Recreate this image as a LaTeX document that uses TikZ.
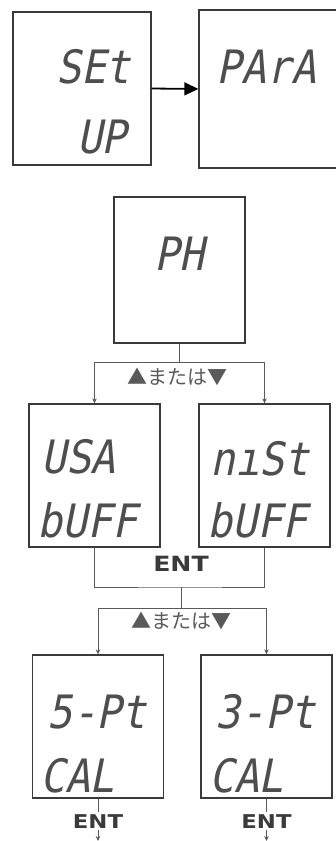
\documentclass[tikz,border=0pt]{standalone}
\usepackage{fontspec}
\usetikzlibrary{positioning,arrows.meta}
\usepackage{xcolor}
\newfontfamily\lcdfont{DejaVu Sans Mono}[FakeSlant=0.2,FakeStretch=0.9]
\newfontfamily\jpfont{Noto Sans CJK JP}
\newfontfamily\entfont{DejaVu Sans}[FakeStretch=1.2]
\definecolor{PanelGray}{RGB}{58,58,58}
\definecolor{LCDGray}{RGB}{78,78,78}
\definecolor{LinkGray}{RGB}{90,90,90}

\begin{document}
\begin{tikzpicture}[
x=1pt,y=-1pt,
panel/.style={rectangle,draw=PanelGray,line width=1.3pt,inner sep=0pt,
minimum width=131pt,minimum height=143pt},
lcd/.style={anchor=base,inner sep=0pt,text=LCDGray,
font=\lcdfont\fontsize{46pt}{46pt}\selectfont},
keylab/.style={anchor=base,inner sep=0pt,text=LinkGray,
font=\jpfont\fontsize{20pt}{20pt}\selectfont},
entlab/.style={anchor=base,inner sep=2pt,text=PanelGray,
font=\entfont\bfseries\fontsize{21pt}{21pt}\selectfont},
link/.style={draw=LinkGray,line width=0.9pt},
tip/.style={-{Stealth[length=5pt,width=4.5pt]}},
arrow/.style={-{Triangle[length=14pt,width=13pt]},line width=1.8pt,draw=black}
]
\useasboundingbox (0,0) rectangle (335,841);
% displays
\node[panel,minimum width=138pt,minimum height=153pt] (setup) at (82,88.5) {};
\node[panel,minimum width=140pt,minimum height=158pt] (para) at (269,89) {};
\node[panel,minimum height=146pt] (ph) at (179.5,270) {};
\node[panel] (usa) at (94.5,475.5) {};
\node[panel] (nist) at (264.5,475.5) {};
\node[panel] (pt5) at (98,726.5) {};
\node[panel] (pt3) at (266.5,726.5) {};
% segment texts
\node[lcd] (setupA) at (93.5,83) {SEt};
\node[lcd] (setupB) at (102,153) {UP};
\node[lcd] (paraA) at (266.5,83) {PArA};
\node[lcd] (phA) at (179.5,270) {PH};
\node[lcd] (usaA) at (78.5,473) {USA};
\node[lcd] (usaB) at (87.5,537) {bUFF};
\node[lcd] (nistA) at (260,475) {nıSt};
\node[lcd] (nistB) at (257.5,537) {bUFF};
\node[lcd] (pt5A) at (97,728) {5-Pt};
\node[lcd] (pt5B) at (77.5,792) {CAL};
\node[lcd] (pt3A) at (265.5,728) {3-Pt};
\node[lcd] (pt3B) at (246.5,792) {CAL};
% key labels
\node[keylab] (keys1) at (177.5,384) {▲または▼};
\node[entlab] (ent1) at (181,571) {ENT};
\node[keylab] (keys2) at (181,628) {▲または▼};
\node[entlab,font=\entfont\bfseries\fontsize{19pt}{19pt}\selectfont] (ent5) at (98,828) {ENT};
\node[entlab,font=\entfont\bfseries\fontsize{19pt}{19pt}\selectfont] (ent3) at (266.5,828) {ENT};
% connectors
\coordinate (fork1) at (179.5,362);
\coordinate (join1) at (181,587);
\coordinate (fork2) at (181,608);
\coordinate (out5) at (98,841);
\coordinate (out3) at (266.5,841);
\draw[arrow] (setup.east) -- (para.west);
\draw[link] (ph.south) -- (fork1);
\draw[link,tip] (fork1) -| (usa.north);
\draw[link,tip] (fork1) -| (nist.north);
\draw[link] (usa.south) |- (join1) -| (nist.south);
\draw[link] (join1) -- (fork2);
\draw[link,tip] (fork2) -| (pt5.north);
\draw[link,tip] (fork2) -| (pt3.north);
\draw[link] (pt5.south) -- (ent5.north);
\draw[link,tip] (ent5.south) -- (out5);
\draw[link] (pt3.south) -- (ent3.north);
\draw[link,tip] (ent3.south) -- (out3);
\end{tikzpicture}
\end{document}
